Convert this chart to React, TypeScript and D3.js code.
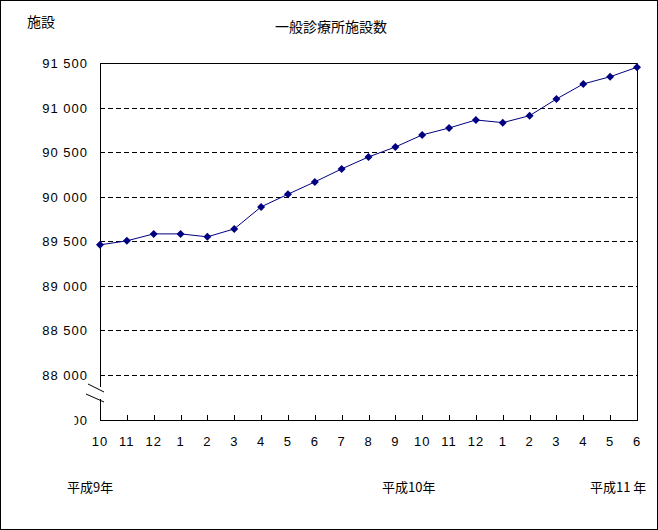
import React, { useRef, useEffect } from "react";
import * as d3 from "d3";

// months, 平成9年10月 .. 平成11年6月
const months = ["10", "11", "12", "1", "2", "3", "4", "5", "6", "7", "8", "9", "10", "11", "12", "1", "2", "3", "4", "5", "6"];
const clinics = [89460, 89505, 89583, 89583, 89550, 89639, 89886, 90028, 90166, 90312, 90446, 90558, 90693, 90771, 90861, 90831, 90909, 91096, 91265, 91346, 91452];
const yTicks = [88000, 88500, 89000, 89500, 90000, 90500, 91000, 91500];
const eraLabels = [
  { text: "平成9年", x: 67 },
  { text: "平成10年", x: 382 },
  { text: "平成11 年", x: 590 },
];

const App = () => {
  const ref = useRef<SVGSVGElement>(null);

  useEffect(() => {
    document.body.style.margin = "0";
    const width = 658;
    const height = 530;
    const left = 100, right = 637, top = 63, bottom = 420;
    const font = "'Noto Sans CJK JP', sans-serif";
    const numFont = "'Liberation Sans', Arial, sans-serif";

    const svg = d3.select(ref.current);
    svg.selectAll("*").remove();

    svg.append("rect")
      .attr("x", 0.5).attr("y", 0.5)
      .attr("width", width - 1).attr("height", height - 1)
      .attr("fill", "#fff").attr("stroke", "#000");

    const x = d3.scalePoint<number>()
      .domain(d3.range(months.length))
      .range([left, right]);

    const y = d3.scaleLinear()
      .domain([88000, 91500])
      .range([375, top]);

    // dashed gridlines
    svg.append("g")
      .selectAll("line")
      .data(yTicks.filter((d) => d < 91500))
      .enter()
      .append("line")
      .attr("x1", left).attr("x2", right)
      .attr("y1", (d) => Math.round(y(d)) + 0.5)
      .attr("y2", (d) => Math.round(y(d)) + 0.5)
      .attr("stroke", "#000")
      .attr("stroke-dasharray", "5,3");

    // frame: top and right
    svg.append("path")
      .attr("d", `M${left},${top + 0.5}H${right + 0.5}V${bottom}`)
      .attr("fill", "none").attr("stroke", "#000");

    // bottom axis with inside ticks
    svg.append("line")
      .attr("x1", left).attr("x2", right + 1)
      .attr("y1", bottom + 0.5).attr("y2", bottom + 0.5)
      .attr("stroke", "#000");
    svg.append("g")
      .selectAll("line")
      .data(d3.range(months.length))
      .enter()
      .append("line")
      .attr("x1", (d) => Math.round(x(d)!) + 0.5)
      .attr("x2", (d) => Math.round(x(d)!) + 0.5)
      .attr("y1", bottom).attr("y2", bottom - 5)
      .attr("stroke", "#000");

    // left axis, broken between 88 000 and 0
    svg.append("path")
      .attr("d", `M${left + 0.5},${top}V387M${left + 0.5},399V${bottom + 1}`)
      .attr("fill", "none").attr("stroke", "#000");
    svg.append("line")
      .attr("x1", 88).attr("y1", 384).attr("x2", 104).attr("y2", 392)
      .attr("stroke", "#000");
    svg.append("line")
      .attr("x1", 86).attr("y1", 394).attr("x2", 104).attr("y2", 402)
      .attr("stroke", "#000");

    // y labels
    svg.append("g")
      .selectAll("text")
      .data(yTicks)
      .enter()
      .append("text")
      .attr("x", 88)
      .attr("y", (d) => y(d) + 5)
      .attr("text-anchor", "end")
      .attr("font-family", numFont)
      .attr("font-size", 13)
      .attr("letter-spacing", 1)
      .text((d) => d3.format(",")(d).replace(",", " "));
    svg.append("text")
      .attr("x", 88).attr("y", bottom + 5)
      .attr("text-anchor", "end")
      .attr("font-family", numFont).attr("font-size", 13)
      .attr("letter-spacing", 1)
      .text("00");
    // the broken-axis label is partly cut off
    svg.append("rect")
      .attr("x", 66).attr("y", bottom - 9)
      .attr("width", 8.5).attr("height", 18)
      .attr("fill", "#fff");

    // x labels
    svg.append("g")
      .selectAll("text")
      .data(months)
      .enter()
      .append("text")
      .attr("x", (_, i) => x(i)!)
      .attr("y", 446)
      .attr("text-anchor", "middle")
      .attr("font-family", numFont)
      .attr("font-size", 13)
      .attr("letter-spacing", 1)
      .text((d) => d);

    svg.append("g")
      .selectAll("text")
      .data(eraLabels)
      .enter()
      .append("text")
      .attr("x", (d) => d.x)
      .attr("y", 492)
      .attr("font-family", font)
      .attr("font-size", 13)
      .text((d) => d.text);

    // titles
    svg.append("text")
      .attr("x", 27).attr("y", 27)
      .attr("font-family", font).attr("font-size", 14)
      .text("施設");
    svg.append("text")
      .attr("x", 331).attr("y", 32)
      .attr("text-anchor", "middle")
      .attr("font-family", font).attr("font-size", 14)
      .text("一般診療所施設数");

    // line + diamond markers
    const line = d3.line<number>()
      .x((_, i) => x(i)!)
      .y((d) => y(d));
    svg.append("path")
      .datum(clinics)
      .attr("d", line)
      .attr("fill", "none")
      .attr("stroke", "#000080")
      .attr("stroke-width", 1);

    const diamond = d3.symbol().type(d3.symbolSquare).size(32);
    svg.append("g")
      .selectAll("path")
      .data(clinics)
      .enter()
      .append("path")
      .attr("d", diamond)
      .attr("transform", (d, i) => `translate(${x(i)},${y(d)}) rotate(45)`)
      .attr("fill", "#000080");
  }, []);

  return <svg ref={ref} width={658} height={530} style={{ display: "block" }} />;
};

export default App;
